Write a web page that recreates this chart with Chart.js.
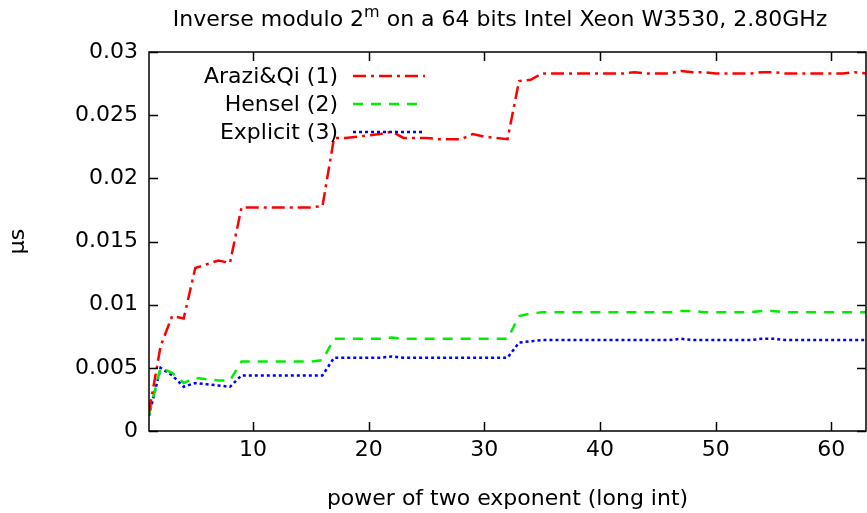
<!DOCTYPE html>
<html>
<head>
<meta charset="utf-8">
<script src="https://cdn.jsdelivr.net/npm/chart.js@4/dist/chart.umd.min.js"></script>
<style>
  html, body { margin: 0; padding: 0; background: #fff; }
  canvas { display: block; }
</style>
</head>
<body>
<canvas id="chart" width="867" height="513"></canvas>
<script>
// power of two exponent m
const exponents = [
  1, 2, 3, 4, 5, 6, 7, 8, 9, 10, 11, 12, 13, 14, 15, 16,
  17, 18, 19, 20, 21, 22, 23, 24, 25, 26, 27, 28, 29, 30, 31, 32,
  33, 34, 35, 36, 37, 38, 39, 40, 41, 42, 43, 44, 45, 46, 47, 48,
  49, 50, 51, 52, 53, 54, 55, 56, 57, 58, 59, 60, 61, 62, 63
];

// timings in µs
const araziQi = [
  0.0015, 0.0067, 0.0091, 0.0089, 0.0129, 0.0132, 0.0135, 0.0133,
  0.0177, 0.0177, 0.0177, 0.0177, 0.0177, 0.0177, 0.0177, 0.0178,
  0.0232, 0.0232, 0.0233, 0.0234, 0.0235, 0.0237, 0.0232, 0.0232,
  0.0232, 0.0231, 0.0231, 0.0231, 0.0235, 0.0233, 0.0232, 0.0231,
  0.0277, 0.0278, 0.0283, 0.0283, 0.0283, 0.0283, 0.0283, 0.0283,
  0.0283, 0.0283, 0.0284, 0.0283, 0.0283, 0.0283, 0.0285, 0.0284,
  0.0284, 0.0283, 0.0283, 0.0283, 0.0283, 0.0284, 0.0284, 0.0283,
  0.0283, 0.0283, 0.0283, 0.0283, 0.0283, 0.0284, 0.0283
];
const hensel = [
  0.0013, 0.0050, 0.0046, 0.0038, 0.0042, 0.0041, 0.0040, 0.0040,
  0.0055, 0.0055, 0.0055, 0.0055, 0.0055, 0.0055, 0.0055, 0.0056,
  0.0073, 0.0073, 0.0073, 0.0073, 0.0073, 0.0074, 0.0073, 0.0073,
  0.0073, 0.0073, 0.0073, 0.0073, 0.0073, 0.0073, 0.0073, 0.0073,
  0.0091, 0.0093, 0.0094, 0.0094, 0.0094, 0.0094, 0.0094, 0.0094,
  0.0094, 0.0094, 0.0094, 0.0094, 0.0094, 0.0094, 0.0095, 0.0095,
  0.0094, 0.0094, 0.0094, 0.0094, 0.0094, 0.0095, 0.0095, 0.0094,
  0.0094, 0.0094, 0.0094, 0.0094, 0.0094, 0.0094, 0.0094
];
const explicitInv = [
  0.0012, 0.0050, 0.0044, 0.0035, 0.0038, 0.0037, 0.0036, 0.0035,
  0.0044, 0.0044, 0.0044, 0.0044, 0.0044, 0.0044, 0.0044, 0.0044,
  0.0058, 0.0058, 0.0058, 0.0058, 0.0058, 0.0059, 0.0058, 0.0058,
  0.0058, 0.0058, 0.0058, 0.0058, 0.0058, 0.0058, 0.0058, 0.0058,
  0.0070, 0.0071, 0.0072, 0.0072, 0.0072, 0.0072, 0.0072, 0.0072,
  0.0072, 0.0072, 0.0072, 0.0072, 0.0072, 0.0072, 0.0073, 0.0072,
  0.0072, 0.0072, 0.0072, 0.0072, 0.0072, 0.0073, 0.0073, 0.0072,
  0.0072, 0.0072, 0.0072, 0.0072, 0.0072, 0.0072, 0.0072
];

const seriesNames = ['Arazi&Qi (1)', 'Hensel (2)', 'Explicit (3)'];
const xTicks = [10, 20, 30, 40, 50, 60];
const yTicks = [0, 0.005, 0.01, 0.015, 0.02, 0.025, 0.03];
const yTickLabels = ['0', '0.005', '0.01', '0.015', '0.02', '0.025', '0.03'];

const FONT = "'DejaVu Sans', sans-serif";
const FSIZE = 22;

// gnuplot style border with inward ticks on all four sides
const framePlugin = {
  id: 'frame',
  afterDraw(chart) {
    const ctx = chart.ctx;
    const a = chart.chartArea;
    const xs = chart.scales.x;
    const ys = chart.scales.y;
    const len = 9;
    ctx.save();
    ctx.strokeStyle = '#000';
    ctx.lineWidth = 1.5;
    ctx.strokeRect(a.left, a.top, a.right - a.left, a.bottom - a.top);
    ctx.beginPath();
    xs.ticks.forEach(t => {
      const x = Math.round(xs.getPixelForValue(t.value)) + 0.5;
      ctx.moveTo(x, a.bottom); ctx.lineTo(x, a.bottom - len);
      ctx.moveTo(x, a.top); ctx.lineTo(x, a.top + len);
    });
    ys.ticks.forEach(t => {
      const y = Math.round(ys.getPixelForValue(t.value)) + 0.5;
      ctx.moveTo(a.left, y); ctx.lineTo(a.left + len, y);
      ctx.moveTo(a.right, y); ctx.lineTo(a.right - len, y);
    });
    ctx.stroke();
    ctx.restore();
  }
};

// key inside plot, text right aligned, sample on the right
const keyPlugin = {
  id: 'key',
  afterDraw(chart) {
    const ctx = chart.ctx;
    const rows = [77, 105, 133];
    ctx.save();
    ctx.font = FSIZE + 'px ' + FONT;
    ctx.textAlign = 'right';
    ctx.textBaseline = 'middle';
    chart.data.datasets.forEach((ds, i) => {
      const y = rows[i];
      ctx.fillStyle = '#000';
      ctx.fillText(ds.label, 338, y);
      ctx.strokeStyle = ds.borderColor;
      ctx.lineWidth = ds.borderWidth;
      ctx.setLineDash(ds.borderDash);
      ctx.beginPath();
      ctx.moveTo(353, y - 1);
      ctx.lineTo(425, y - 1);
      ctx.stroke();
    });
    ctx.restore();
  }
};

// title with superscript m
const titlePlugin = {
  id: 'gpTitle',
  afterDraw(chart) {
    const ctx = chart.ctx;
    const parts = [
      { t: 'Inverse modulo 2', size: FSIZE, dy: 0 },
      { t: 'm', size: 16, dy: -9 },
      { t: ' on a 64 bits Intel Xeon W3530, 2.80GHz', size: FSIZE, dy: 0 }
    ];
    ctx.save();
    ctx.fillStyle = '#000';
    ctx.textBaseline = 'alphabetic';
    ctx.textAlign = 'left';
    let total = 0;
    parts.forEach(p => {
      ctx.font = p.size + 'px ' + FONT;
      p.w = ctx.measureText(p.t).width;
      total += p.w;
    });
    let x = 500 - total / 2;
    parts.forEach(p => {
      ctx.font = p.size + 'px ' + FONT;
      ctx.fillText(p.t, x, 26 + p.dy);
      x += p.w;
    });
    ctx.restore();
  }
};

const toPoints = arr => exponents.map((m, i) => ({ x: m, y: arr[i] }));

new Chart(document.getElementById('chart'), {
  type: 'line',
  data: {
    datasets: [
      {
        label: seriesNames[0],
        data: toPoints(araziQi),
        borderColor: '#ff0000',
        borderWidth: 2.5,
        borderDash: [13, 5, 3, 5]
      },
      {
        label: seriesNames[1],
        data: toPoints(hensel),
        borderColor: '#00ee00',
        borderWidth: 2.5,
        borderDash: [10, 8]
      },
      {
        label: seriesNames[2],
        data: toPoints(explicitInv),
        borderColor: '#0000ff',
        borderWidth: 2.5,
        borderDash: [3, 3]
      }
    ]
  },
  options: {
    responsive: false,
    animation: false,
    layout: { padding: { top: 52, right: 1, left: 0, bottom: 0 } },
    elements: {
      point: { radius: 0 },
      line: { tension: 0, fill: false }
    },
    plugins: {
      legend: { display: false },
      title: { display: false },
      tooltip: { enabled: false }
    },
    scales: {
      x: {
        type: 'linear',
        min: 1,
        max: 63,
        grid: { display: false, drawTicks: false },
        border: { display: false },
        afterBuildTicks: s => { s.ticks = xTicks.map(v => ({ value: v })); },
        afterFit: s => { s.height = 82; },
        ticks: {
          font: { family: FONT, size: FSIZE },
          color: '#000',
          padding: 6,
          maxRotation: 0,
          callback: v => String(v)
        },
        title: {
          display: true,
          text: 'power of two exponent (long int)',
          font: { family: FONT, size: FSIZE },
          color: '#000',
          padding: { top: 0, bottom: 1 }
        }
      },
      y: {
        min: 0,
        max: 0.03,
        grid: { display: false, drawTicks: false },
        border: { display: false },
        afterBuildTicks: s => { s.ticks = yTicks.map(v => ({ value: v })); },
        afterFit: s => { s.width = 149; },
        ticks: {
          font: { family: FONT, size: FSIZE },
          color: '#000',
          padding: 11,
          callback: v => yTickLabels[yTicks.indexOf(v)]
        },
        title: {
          display: true,
          text: 'µs',
          font: { family: FONT, size: FSIZE },
          color: '#000',
          padding: { top: 5, bottom: 0 }
        }
      }
    }
  },
  plugins: [framePlugin, keyPlugin, titlePlugin]
});
</script>
</body>
</html>
